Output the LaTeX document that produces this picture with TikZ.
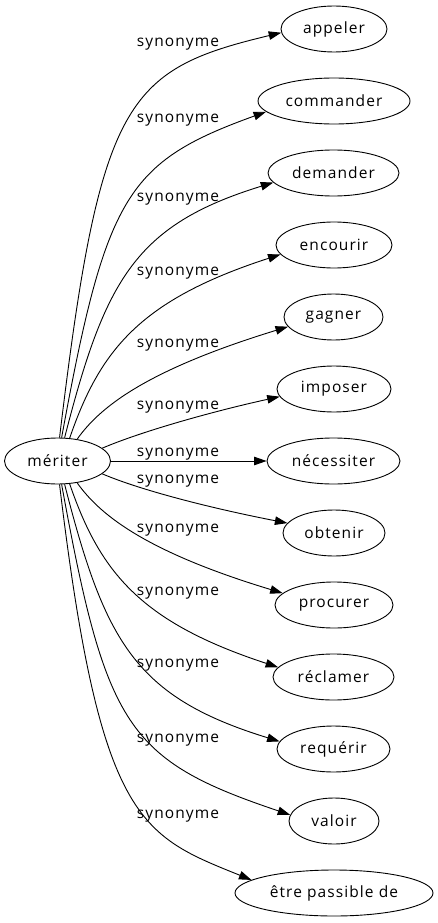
\documentclass[tikz,border=0pt]{standalone}
\usepackage{fontspec}
\setmainfont{Open Sans}[LetterSpace=7]
\usetikzlibrary{arrows.meta,shapes.geometric}
\begin{document}
\begin{tikzpicture}[x=1pt,y=-1pt,
  word/.style={draw, ellipse, line width=0.9pt, inner sep=0pt, minimum height=46pt, font=\fontsize{15.5}{18}\selectfont},
  lab/.style={anchor=base, inner sep=0pt, font=\fontsize{15.5}{18}\selectfont},
  syn/.style={draw, line width=0.9pt, -{Triangle[length=12.5pt,width=8.5pt]}}
]
\useasboundingbox (0,0) rectangle (438,923);
% nodes
\node[word, minimum width=106pt] (m) at (57.5,461) {mériter};
\node[word, minimum width=106pt] (appeler) at (334,29) {appeler};
\node[word, minimum width=152pt] (commander) at (334,101) {commander};
\node[word, minimum width=131pt] (demander) at (333.5,173) {demander};
\node[word, minimum width=116pt] (encourir) at (334,245) {encourir};
\node[word, minimum width=99pt] (gagner) at (333.5,317) {gagner};
\node[word, minimum width=114pt] (imposer) at (334,389) {imposer};
\node[word, minimum width=133pt] (necessiter) at (333.5,461) {nécessiter};
\node[word, minimum width=102pt] (obtenir) at (334,533) {obtenir};
\node[word, minimum width=118pt] (procurer) at (334,605) {procurer};
\node[word, minimum width=121pt] (reclamer) at (333.5,677) {réclamer};
\node[word, minimum width=113pt] (requerir) at (333.5,749) {requérir};
\node[word, minimum width=90pt] (valoir) at (334,821) {valoir};
\node[word, minimum width=198pt] (etre) at (334,893) {être passible de};
% edges
\draw[syn] (m.85) .. controls (100,100) and (125,70) .. (appeler.184);
\draw[syn] (m.80) .. controls (106,195) and (127,162) .. (commander.189);
\draw[syn] (m.73) .. controls (105,280) and (135,225) .. (demander.189);
\draw[syn] (m.62) .. controls (100,350) and (140,300) .. (encourir.190);
\draw[syn] (m.48) .. controls (98,410) and (140,372) .. (gagner.192);
\draw[syn] (m.16) .. controls (140,432) and (210,412) .. (imposer.188);
\draw[syn] (m.0) -- (necessiter.180);
\draw[syn] (m.-16) .. controls (140,490) and (210,508) .. (obtenir.168);
\draw[syn] (m.-48) .. controls (98,512) and (140,550) .. (procurer.167);
\draw[syn] (m.-62) .. controls (100,572) and (140,622) .. (reclamer.170);
\draw[syn] (m.-73) .. controls (105,642) and (135,697) .. (requerir.172);
\draw[syn] (m.-80) .. controls (106,727) and (127,760) .. (valoir.172);
\draw[syn] (m.-85) .. controls (100,822) and (140,835) .. (etre.171);
% labels
\node[lab] (l1) at (178,47) {synonyme};
\node[lab] (l2) at (178,122) {synonyme};
\node[lab] (l3) at (178,201) {synonyme};
\node[lab] (l4) at (178,275) {synonyme};
\node[lab] (l5) at (178,347) {synonyme};
\node[lab] (l6) at (178,409) {synonyme};
\node[lab] (l7) at (178,456) {synonyme};
\node[lab] (l8) at (178,483) {synonyme};
\node[lab] (l9) at (178,532) {synonyme};
\node[lab] (l10) at (178,595) {synonyme};
\node[lab] (l11) at (178,667) {synonyme};
\node[lab] (l12) at (178,742) {synonyme};
\node[lab] (l13) at (178,818) {synonyme};
\end{tikzpicture}
\end{document}
